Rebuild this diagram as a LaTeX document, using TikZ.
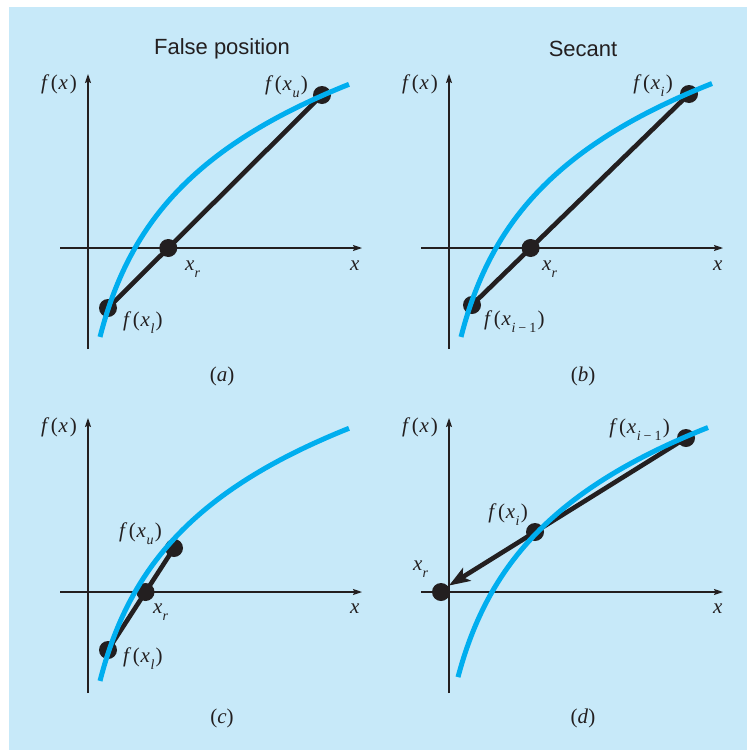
\documentclass[tikz,border=0pt]{standalone}
\usepackage{fontspec}
\setmainfont{Liberation Serif}
\newfontfamily\titlefont{Liberation Sans}
\usetikzlibrary{arrows.meta,calc}
\definecolor{panelbg}{RGB}{199,233,249}
\definecolor{curveblue}{RGB}{0,174,239}
\definecolor{ink}{RGB}{35,31,32}
\newcommand{\sbs}[1]{\raisebox{-0.36em}{\fontsize{14}{16}\selectfont\itshape #1}}
\newcommand{\fof}[1]{\textit{f}\kern1.4pt(\kern0.8pt\textit{x}\kern0.6pt#1\kern1.2pt)}
\newcommand{\imo}{i\kern3pt{\upshape −\kern3pt1}}
\tikzset{
  axis/.style={line width=1.1pt, draw=ink, -{Stealth[length=9pt,width=6pt,inset=1.5pt]}},
  secline/.style={line width=4.6pt, draw=ink},
  curve/.style={line width=5pt, draw=curveblue},
  dotnode/.style={circle, fill=ink, minimum size=18pt, inner sep=0pt},
  lab/.style={font=\fontsize{21}{25}\selectfont, inner sep=0pt, text=ink},
  ttl/.style={font=\titlefont\fontsize{22}{26}\selectfont, inner sep=0pt, text=ink},
  axes/.pic={
    \coordinate (-yb) at (0,-101);
    \coordinate (-yt) at (0,174);
    \coordinate (-xl) at (-28,0);
    \coordinate (-xr) at (274,0);
    \draw[axis] (-yb) -- (-yt);
    \draw[axis] (-xl) -- (-xr);
  }
}
\begin{document}
\begin{tikzpicture}[x=1pt,y=1pt]
\useasboundingbox (0,0) rectangle (747,-750);
\fill[white] (0,0) rectangle (747,-750);
\fill[panelbg] (9,-7) rectangle (747,-750);

% ---------- (a) ----------
\begin{scope}[shift={(88,-248)}]
  \pic (pa) {axes};
  \node[dotnode] (aL) at (20,-60) {};
  \node[dotnode] (aU) at (234,153) {};
  \draw[secline] (aL.center) -- (aU.center);
  \node[dotnode] (aR) at ($(aL)!0.2817!(aU)$) {};
  \draw[curve] plot[domain=12:261,samples=120,smooth] (\x,{111*ln((\x+16.5)/63.5)});
  \node[lab, anchor=base east] (afx) at (-11,159) {\fof{}};
  \node[lab, anchor=base east] (afu) at (220,158) {\fof{\sbs{u}}};
  \node[lab, anchor=base west] (axr) at (97,-22) {\textit{x}\sbs{r}};
  \node[lab, anchor=base west] (ax) at (262,-22) {\textit{x}};
  \node[lab, anchor=base west] (afl) at (35,-78) {\fof{\sbs{l}}};
  \node[lab] (acap) at (134,-128) {(\textit{a})};
  \node[ttl] (atitle) at (134,199) {False position};
\end{scope}

% ---------- (b) ----------
\begin{scope}[shift={(449,-248)}]
  \pic (pb) {axes};
  \node[dotnode] (bP) at (23,-57) {};
  \node[dotnode] (bQ) at (240,154) {};
  \draw[secline] (bP.center) -- (bQ.center);
  \node[dotnode] (bR) at ($(bP)!0.2701!(bQ)$) {};
  \draw[curve] plot[domain=12:263,samples=120,smooth] (\x,{111*ln((\x+16.5)/63.5)});
  \node[lab, anchor=base east] (bfx) at (-11,159) {\fof{}};
  \node[lab, anchor=base east] (bfi) at (224,159) {\fof{\sbs{i}}};
  \node[lab, anchor=base west] (bxr) at (93,-22) {\textit{x}\sbs{r}};
  \node[lab, anchor=base west] (bx) at (264,-22) {\textit{x}};
  \node[lab, anchor=base west] (bfim) at (35,-77) {\fof{\sbs{\imo}}};
  \node[lab] (bcap) at (134,-128) {(\textit{b})};
  \node[ttl] (btitle) at (134,199) {Secant};
\end{scope}

% ---------- (c) ----------
\begin{scope}[shift={(88,-592)}]
  \pic (pc) {axes};
  \node[dotnode] (cL) at (20,-58) {};
  \node[dotnode] (cU) at (86,44) {};
  \draw[secline] (cL.center) -- (cU.center);
  \node[dotnode] (cR) at ($(cL)!0.5686!(cU)$) {};
  \draw[curve] plot[domain=12:261,samples=120,smooth] (\x,{111*ln((\x+16.5)/63.5)});
  \node[lab, anchor=base east] (cfx) at (-11,160) {\fof{}};
  \node[lab, anchor=base east] (cfu) at (74,55) {\fof{\sbs{u}}};
  \node[lab, anchor=base west] (cxr) at (65,-21) {\textit{x}\sbs{r}};
  \node[lab, anchor=base west] (cx) at (262,-21) {\textit{x}};
  \node[lab, anchor=base west] (cfl) at (35,-70) {\fof{\sbs{l}}};
  \node[lab] (ccap) at (134,-126) {(\textit{c})};
\end{scope}

% ---------- (d) ----------
\begin{scope}[shift={(449,-592)}]
  \pic (pd) {axes};
  \node[dotnode] (dA) at (237,154) {};
  \node[dotnode] (dB) at (86,60) {};
  \node[dotnode] (dR) at (-8,0) {};
  \coordinate (dT) at ($(dA)!1.5695!(dB)$);
  \draw[secline, -{Stealth[length=21pt,width=15pt,inset=5pt]}] (dA.center) -- (dT);
  \draw[curve] plot[domain=9:259,samples=120,smooth] (\x,{111*ln((\x+20.5)/63.5)});
  \node[lab, anchor=base east] (dfx) at (-11,160) {\fof{}};
  \node[lab, anchor=base east] (dfim) at (221,159) {\fof{\sbs{\imo}}};
  \node[lab, anchor=base east] (dfi) at (79,74) {\fof{\sbs{i}}};
  \node[lab, anchor=base west] (dxr) at (-36,22) {\textit{x}\sbs{r}};
  \node[lab, anchor=base west] (dx) at (264,-21) {\textit{x}};
  \node[lab] (dcap) at (134,-126) {(\textit{d})};
\end{scope}
\end{tikzpicture}
\end{document}
